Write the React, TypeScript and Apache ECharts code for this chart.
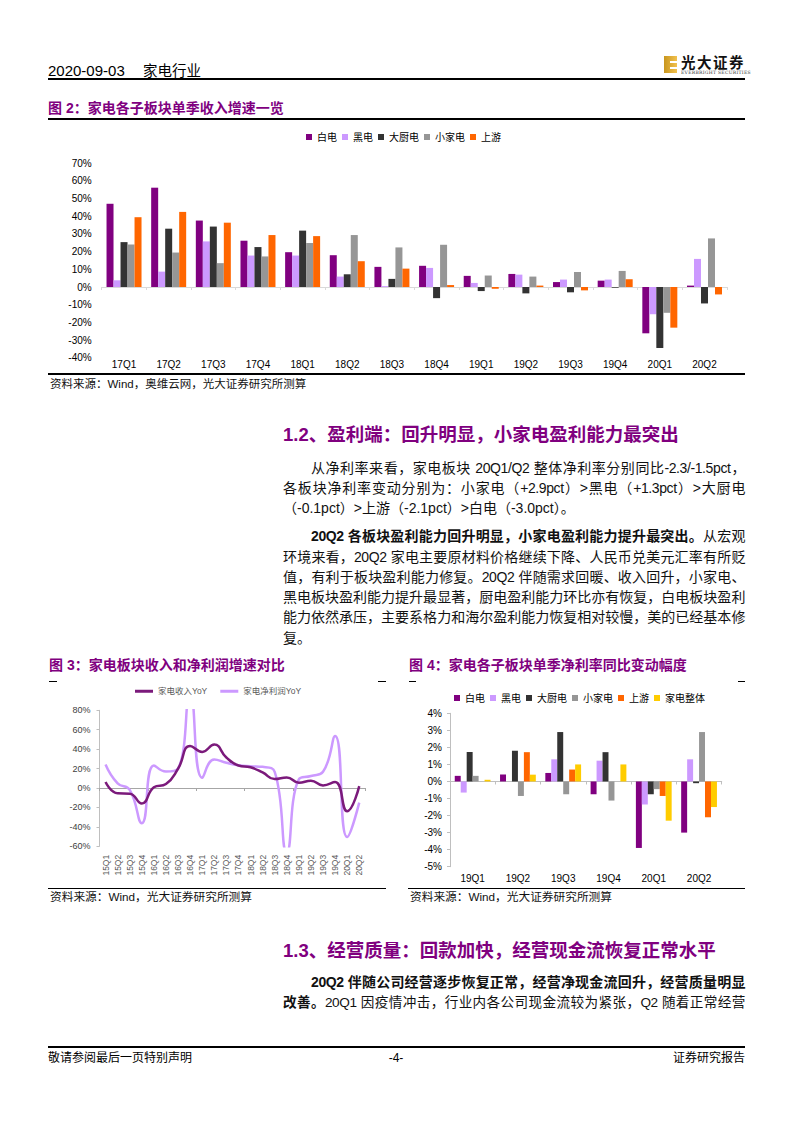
import React, { useEffect, useRef } from "react";
import * as echarts from "echarts";

// ---------- data ----------
const cats2 = ["17Q1", "17Q2", "17Q3", "17Q4", "18Q1", "18Q2", "18Q3", "18Q4", "19Q1", "19Q2", "19Q3", "19Q4", "20Q1", "20Q2"];
const rev2Baidian = [47.1, 56.2, 37.6, 26.2, 19.7, 18.0, 11.4, 12.0, 6.3, 7.4, 2.8, 3.6, -26.2, 0.8];
const rev2Heidian = [3.8, 8.7, 25.8, 17.8, 17.8, 5.9, 0.5, 10.8, 2.3, 7.0, 4.2, 4.2, -15.4, 15.9];
const rev2Chudian = [25.4, 33.0, 34.2, 22.6, 31.9, 7.2, 4.6, -6.3, -2.3, -3.6, -3.0, -0.4, -34.5, -9.3];
const rev2Xiaojiadian = [24.1, 19.5, 13.5, 17.3, 24.9, 29.4, 22.4, 23.9, 6.5, 5.9, 8.5, 9.1, -14.6, 27.5];
const rev2Shangyou = [39.5, 42.5, 36.4, 29.4, 28.8, 14.6, 10.4, 1.1, -1.0, 0.8, -1.9, 4.4, -23.0, -4.2];

const cats3 = ["15Q1", "15Q2", "15Q3", "15Q4", "16Q1", "16Q2", "16Q3", "16Q4", "17Q1", "17Q2", "17Q3", "17Q4", "18Q1", "18Q2", "18Q3", "18Q4", "19Q1", "19Q2", "19Q3", "19Q4", "20Q1", "20Q2"];
const revenueYoY = [6.1, -5.5, -5.8, -16, 0.7, 4.1, 19.8, 43.3, 37.2, 44.7, 31.4, 23.2, 21.3, 16, 9.2, 10.9, 5.5, 7.5, 2.7, 6.1, -23.9, 2];
const profitYoY = [24.2, 4.8, -2, -36.2, 23.2, 17, 20, 98, 10.6, 29.4, 26, 23.5, 22.5, 21.8, 16.7, -66, 8.9, 12.3, 16.7, 53.6, -50.5, -15];

const cats4 = ["19Q1", "19Q2", "19Q3", "19Q4", "20Q1", "20Q2"];
const nm4Baidian = [0.33, 0.41, 0.5, -0.75, -3.9, -3.0];
const nm4Heidian = [-0.65, 0, 1.3, 1.22, -1.35, 1.3];
const nm4Chudian = [1.73, 1.8, 2.9, 1.72, -0.75, -0.1];
const nm4Xiaojiadian = [0.33, -0.85, -0.75, -1.12, -0.45, 2.9];
const nm4Shangyou = [0, 1.72, 0.7, 0, -0.85, -2.1];
const nm4Zhengti = [0.1, 0.4, 1.0, 1.0, -2.3, -1.5];

const names2 = ["白电", "黑电", "大厨电", "小家电", "上游"];
const names4 = ["白电", "黑电", "大厨电", "小家电", "上游", "家电整体"];
const colors4 = ["#800080", "#CC99FF", "#333333", "#969696", "#FF6600", "#FFCC00"];

const FONT = '"Liberation Sans", Arial, "Noto Sans CJK SC", sans-serif';
const PURPLE = "#80007F";

function buildOption() {
  const data2 = [rev2Baidian, rev2Heidian, rev2Chudian, rev2Xiaojiadian, rev2Shangyou];
  const data4 = [nm4Baidian, nm4Heidian, nm4Chudian, nm4Xiaojiadian, nm4Shangyou, nm4Zhengti];
  const series: any[] = [];
  names2.forEach((n, i) => {
    series.push({
      name: n, type: "bar", xAxisIndex: 0, yAxisIndex: 0, data: data2[i],
      barGap: "0%", barCategoryGap: "21.6%",
      itemStyle: { color: colors4[i] },
    });
  });
  series.push({
    name: "家电净利润YoY", type: "line", xAxisIndex: 2, yAxisIndex: 1, data: profitYoY,
    smooth: true, symbol: "none", clip: true, z: 2,
    lineStyle: { color: "#CC99FF", width: 2.5 }, itemStyle: { color: "#CC99FF" },
  });
  series.push({
    name: "家电收入YoY", type: "line", xAxisIndex: 2, yAxisIndex: 1, data: revenueYoY,
    smooth: true, symbol: "none", clip: true, z: 3,
    lineStyle: { color: "#7B1A7B", width: 2.5 }, itemStyle: { color: "#7B1A7B" },
  });
  names4.forEach((n, i) => {
    series.push({
      name: n, type: "bar", xAxisIndex: 4, yAxisIndex: 2, data: data4[i],
      barGap: "0%", barCategoryGap: "21%",
      itemStyle: { color: colors4[i] },
    });
  });

  const labelAxis = (grid: number, data: string[], extra: any) => ({
    gridIndex: grid, type: "category", data, position: "bottom",
    axisLine: { show: false, onZero: false }, axisTick: { show: false },
    axisLabel: { fontFamily: FONT, ...extra }, splitLine: { show: false },
  });
  const zeroAxis = (grid: number, data: string[], color: string) => ({
    gridIndex: grid, type: "category", data, position: "bottom",
    axisLine: { show: true, onZero: true, lineStyle: { color, width: 1 } },
    axisTick: { show: true, length: 3, lineStyle: { color } },
    axisLabel: { show: false }, splitLine: { show: false },
  });

  return {
    animation: false,
    textStyle: { fontFamily: FONT },
    grid: [
      { left: 101.7, top: 163.3, width: 625.1, height: 194.4 },
      { left: 99.5, top: 710.3, width: 265.8, height: 136 },
      { left: 450, top: 713.3, width: 271.7, height: 153.4 },
    ],
    legend: [
      {
        left: 306, top: 132, padding: 0, itemWidth: 6, itemHeight: 6, itemGap: 5, icon: "rect",
        textStyle: { fontSize: 10, color: "#000", fontFamily: FONT }, data: names2,
      },
      {
        left: 135, top: 687, padding: 0, itemWidth: 18, itemHeight: 3, itemGap: 13,
        textStyle: { fontSize: 8.5, color: "#595959", fontFamily: FONT },
        data: [{ name: "家电收入YoY", icon: "rect" }, { name: "家电净利润YoY", icon: "rect" }],
      },
      {
        left: 454, top: 693, padding: 0, itemWidth: 6, itemHeight: 6, itemGap: 5, icon: "rect",
        textStyle: { fontSize: 10, color: "#000", fontFamily: FONT }, data: names4,
      },
    ],
    xAxis: [
      labelAxis(0, cats2, { fontSize: 10, color: "#000", margin: 2 }),
      zeroAxis(0, cats2, "#d9d9d9"),
      labelAxis(1, cats3, { fontSize: 8.5, color: "#595959", margin: 8.5, rotate: 90, interval: 0 }),
      zeroAxis(1, cats3, "#a6a6a6"),
      labelAxis(2, cats4, { fontSize: 10, color: "#000", margin: 7 }),
      zeroAxis(2, cats4, "#bfbfbf"),
    ],
    yAxis: [
      {
        gridIndex: 0, type: "value", min: -40, max: 70, interval: 10,
        axisLine: { show: false }, axisTick: { show: false }, splitLine: { show: false },
        axisLabel: { formatter: "{value}%", fontSize: 10, color: "#000", margin: 10, fontFamily: FONT },
      },
      {
        gridIndex: 1, type: "value", min: -60, max: 80, interval: 20,
        axisLine: { show: true, onZero: false, lineStyle: { color: "#bfbfbf" } },
        axisTick: { show: true, length: 3, lineStyle: { color: "#bfbfbf" } },
        splitLine: { show: false },
        axisLabel: { formatter: "{value}%", fontSize: 9, color: "#404040", margin: 9, fontFamily: FONT },
      },
      {
        gridIndex: 2, type: "value", min: -5, max: 4, interval: 1,
        axisLine: { show: true, onZero: false, lineStyle: { color: "#bfbfbf" } },
        axisTick: { show: true, length: 3, lineStyle: { color: "#bfbfbf" } },
        splitLine: { show: false },
        axisLabel: { formatter: "{value}%", fontSize: 10, color: "#000", margin: 8, fontFamily: FONT },
      },
    ],
    series,
  };
}

// ---------- page helpers ----------
type TL = {
  x: number; y: number; w?: number; size: number; bold?: boolean; color?: string;
  justify?: boolean; align?: "left" | "center" | "right"; children: React.ReactNode;
};
function TextLine({ x, y, w, size, bold, color = "#111", justify, align = "left", children }: TL) {
  const lh = Math.round(size * 1.4);
  return (
    <div
      style={{
        position: "absolute", left: x, top: y - lh / 2, width: w, height: lh,
        lineHeight: lh + "px", fontSize: size, fontWeight: bold ? 700 : 400, color,
        fontFamily: FONT, textAlign: justify ? "justify" : align,
        textAlignLast: justify ? "justify" : align, whiteSpace: w ? "normal" : "nowrap",
        letterSpacing: justify ? "-0.4px" : undefined,
      } as any}
    >
      {children}
    </div>
  );
}
function HLine({ x1, x2, y, t = 1, color = "#000" }: { x1: number; x2: number; y: number; t?: number; color?: string }) {
  return <div style={{ position: "absolute", left: x1, top: y - t / 2, width: x2 - x1, height: t, background: color }} />;
}

function Logo() {
  return (
    <div style={{ position: "absolute", left: 664, top: 55, width: 82, height: 20 }}>
      <div style={{ position: "absolute", left: 0, top: 1, width: 13, height: 17, background: "linear-gradient(90deg,#C8961E,#F2C14E)" }} />
      <div style={{ position: "absolute", left: 6, top: 5.5, width: 7, height: 2.5, background: "#fff" }} />
      <div style={{ position: "absolute", left: 6, top: 11.5, width: 7, height: 2.5, background: "#fff" }} />
      <div style={{ position: "absolute", left: 17, top: -1, fontSize: 14.5, fontWeight: 700, lineHeight: "15px", height: 15, whiteSpace: "nowrap", fontFamily: '"Noto Sans CJK SC", sans-serif', color: "#111", letterSpacing: 1.5 }}>光大证券</div>
      <div style={{ position: "absolute", left: 17, top: 15, fontSize: 4.5, lineHeight: "5px", height: 5, whiteSpace: "nowrap", fontFamily: '"DejaVu Serif", serif', color: "#333", letterSpacing: 0.3 }}>EVERBRIGHT SECURITIES</div>
    </div>
  );
}

export default function App() {
  const ref = useRef<HTMLDivElement>(null);
  useEffect(() => {
    if (!ref.current) return;
    const chart = echarts.init(ref.current, undefined, { renderer: "svg" });
    chart.setOption(buildOption() as any);
    return () => chart.dispose();
  }, []);

  const body = 14;
  const L = 283, R = 745, BW = R - L;
  return (
    <div style={{ position: "absolute", left: 0, top: 0, width: 793, height: 1122, background: "#fff", overflow: "hidden", fontFamily: FONT }}>
      <div ref={ref} style={{ position: "absolute", left: 0, top: 0, width: 793, height: 1122 }} />

      {/* header */}
      <TextLine x={48} y={70.5} size={15} color="#000">2020-09-03</TextLine>
      <TextLine x={143} y={70.5} size={14.5} color="#000">家电行业</TextLine>
      <Logo />
      <HLine x1={48} x2={745} y={79} t={1.3} />

      {/* figure 2 */}
      <TextLine x={48} y={108} size={14} bold color={PURPLE}>图 2：家电各子板块单季收入增速一览</TextLine>
      <HLine x1={48} x2={745} y={119} t={1.3} />
      <HLine x1={48} x2={745} y={374} t={1.3} />
      <TextLine x={50} y={384} size={11.5} color="#111">资料来源：Wind，奥维云网，光大证券研究所测算</TextLine>

      {/* section 1.2 */}
      <TextLine x={L} y={435} size={18.5} bold color={PURPLE}>1.2、盈利端：回升明显，小家电盈利能力最突出</TextLine>
      <TextLine x={L + 28} y={467.7} w={BW - 28} size={body} justify>从净利率来看，家电板块 20Q1/Q2 整体净利率分别同比-2.3/-1.5pct，</TextLine>
      <TextLine x={L} y={487.7} w={BW} size={body} justify>各板块净利率变动分别为：小家电（+2.9pct）&gt;黑电（+1.3pct）&gt;大厨电</TextLine>
      <TextLine x={L} y={508.3} size={body}>（-0.1pct）&gt;上游（-2.1pct）&gt;白电（-3.0pct）。</TextLine>

      <TextLine x={L + 28} y={536} w={BW - 28} size={body} justify><b>20Q2 各板块盈利能力回升明显，小家电盈利能力提升最突出。</b>从宏观</TextLine>
      <TextLine x={L} y={556.7} w={BW} size={body} justify>环境来看，20Q2 家电主要原材料价格继续下降、人民币兑美元汇率有所贬</TextLine>
      <TextLine x={L} y={576.7} w={BW} size={body} justify>值，有利于板块盈利能力修复。20Q2 伴随需求回暖、收入回升，小家电、</TextLine>
      <TextLine x={L} y={597.3} w={BW} size={body} justify>黑电板块盈利能力提升最显著，厨电盈利能力环比亦有恢复，白电板块盈利</TextLine>
      <TextLine x={L} y={617.3} w={BW} size={body} justify>能力依然承压，主要系格力和海尔盈利能力恢复相对较慢，美的已经基本修</TextLine>
      <TextLine x={L} y={638.3} size={body}>复。</TextLine>

      {/* figure 3 */}
      <TextLine x={49} y={665} size={14} bold color={PURPLE}>图 3：家电板块收入和净利润增速对比</TextLine>
      <HLine x1={49} x2={57} y={681} />
      <HLine x1={378} x2={386} y={681} />
      <HLine x1={48} x2={386} y={888.5} t={1.3} />
      <TextLine x={50} y={896.5} size={11.7} color="#111">资料来源：Wind，光大证券研究所测算</TextLine>

      {/* figure 4 */}
      <TextLine x={409} y={665} size={14} bold color={PURPLE}>图 4：家电各子板块单季净利率同比变动幅度</TextLine>
      <HLine x1={409} x2={416} y={681} />
      <HLine x1={738} x2={745} y={681} />
      <HLine x1={408} x2={745} y={888.5} t={1.3} />
      <TextLine x={410} y={896.5} size={11.7} color="#111">资料来源：Wind，光大证券研究所测算</TextLine>

      {/* section 1.3 */}
      <TextLine x={L} y={950.7} size={18.5} bold color={PURPLE}>1.3、经营质量：回款加快，经营现金流恢复正常水平</TextLine>
      <TextLine x={L + 28} y={981.7} w={BW - 28} size={body} justify><b>20Q2 伴随公司经营逐步恢复正常，经营净现金流回升，经营质量明显</b></TextLine>
      <TextLine x={L} y={1002.7} w={BW} size={13.6} justify><b>改善。</b>20Q1 因疫情冲击，行业内各公司现金流较为紧张，Q2 随着正常经营</TextLine>

      {/* footer */}
      <HLine x1={48} x2={745} y={1047} t={1.3} />
      <TextLine x={48} y={1058} size={12} color="#000">敬请参阅最后一页特别声明</TextLine>
      <TextLine x={346} y={1058} w={100} size={12} color="#000" align="center">-4-</TextLine>
      <TextLine x={595} y={1058} w={150} size={12} color="#000" align="right">证券研究报告</TextLine>
    </div>
  );
}
